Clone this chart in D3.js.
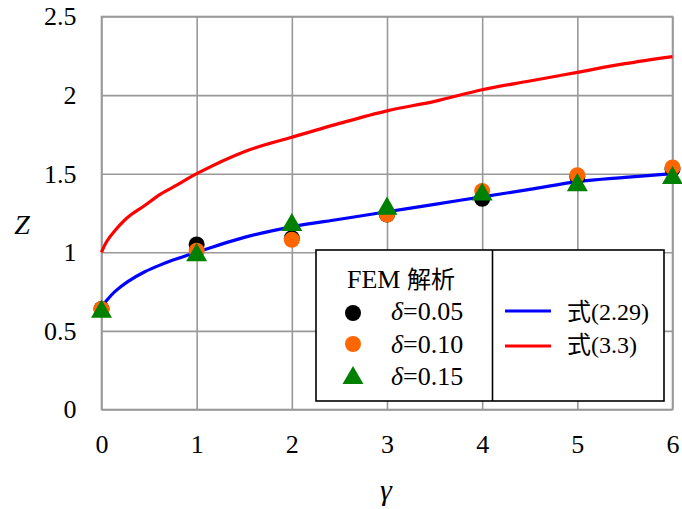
<!DOCTYPE html>
<html>
<head>
<meta charset="utf-8">
<script src="https://cdn.jsdelivr.net/npm/d3@7"></script>
<style>
  body { margin: 0; background: #fff; }
  svg, svg text { font-family: "Liberation Serif", "Times New Roman", serif; }
</style>
</head>
<body>
<div id="chart"></div>
<script>
// FEM results at integer gamma
const gammaPts = [0, 1, 2, 3, 4, 5, 6];
const fem005 = [0.64, 1.05, 1.09, 1.24, 1.34, 1.48, 1.53];
const fem010 = [0.64, 1.01, 1.08, 1.24, 1.39, 1.49, 1.54];
const fem015 = [0.635, 0.995, 1.186, 1.29, 1.38, 1.44, 1.485];

// curves
const curveGamma = [0, 0.05, 0.14, 0.28, 0.45, 0.62, 0.8, 1, 1.5, 2, 2.5, 3, 3.5, 4, 4.5, 5, 5.5, 6];
const eq229 = [0.65, 0.69, 0.75, 0.815, 0.875, 0.92, 0.96, 1.0, 1.095, 1.162, 1.21, 1.258, 1.305, 1.353, 1.40, 1.45, 1.477, 1.50];
const eq33 = [1.0, 1.064, 1.137, 1.224, 1.296, 1.37, 1.43, 1.5, 1.64, 1.732, 1.82, 1.90, 1.96, 2.034, 2.09, 2.145, 2.2, 2.245];

const xTicks = [0, 1, 2, 3, 4, 5, 6];
const yTicks = [0, 0.5, 1, 1.5, 2, 2.5];

const W = 682, H = 509;
const SERIF = "Liberation Serif";
const CJK = "Noto Sans CJK JP";

const svg = d3.select("#chart").append("svg")
    .attr("width", W)
    .attr("height", H)
    .attr("font-family", SERIF);

const x = d3.scaleLinear().domain([0, 6]).range([101.5, 672.5]);
const y = d3.scaleLinear().domain([0, 2.5]).range([409.5, 16.5]);

const gridColor = "#999";

// grid + axes
const xAxis = svg.append("g")
    .attr("transform", `translate(0,${y(0)})`)
    .call(d3.axisBottom(x).tickValues(xTicks).tickFormat(d3.format("d"))
        .tickSize(-(y(0) - y(2.5))).tickPadding(25));
const yAxis = svg.append("g")
    .attr("transform", `translate(${x(0)},0)`)
    .call(d3.axisLeft(y).tickValues(yTicks).tickFormat(d => d)
        .tickSize(-(x(6) - x(0))).tickPadding(25));

[xAxis, yAxis].forEach(g => {
    g.attr("font-family", SERIF).attr("font-size", 26);
    g.select(".domain").remove();
    g.selectAll(".tick line").attr("stroke", gridColor).attr("stroke-width", 1.6);
    g.selectAll(".tick text").attr("fill", "#000");
});

// plot frame
svg.append("rect")
    .attr("x", x(0)).attr("y", y(2.5))
    .attr("width", x(6) - x(0)).attr("height", y(0) - y(2.5))
    .attr("fill", "none").attr("stroke", gridColor).attr("stroke-width", 1.6);

// axis titles
svg.append("text")
    .attr("x", 386).attr("y", 500)
    .attr("text-anchor", "middle")
    .attr("font-size", 30).attr("font-style", "italic")
    .text("γ");
svg.append("text")
    .attr("x", 22).attr("y", 234)
    .attr("text-anchor", "middle")
    .attr("font-size", 28).attr("font-style", "italic")
    .text("Z");

// curves
const line = d3.line().curve(d3.curveCatmullRom.alpha(0.5));
const blueData = curveGamma.map((g, i) => [x(g), y(eq229[i])]);
const redData = curveGamma.map((g, i) => [x(g), y(eq33[i])]);

svg.append("path").attr("d", line(redData))
    .attr("fill", "none").attr("stroke", "#ff0000").attr("stroke-width", 3.2);
svg.append("path").attr("d", line(blueData))
    .attr("fill", "none").attr("stroke", "#0000ff").attr("stroke-width", 3.2);

// markers
const circleR = 8;
const triSym = d3.symbol().type(d3.symbolTriangle).size(190);

svg.append("g").selectAll("circle")
    .data(gammaPts.map((g, i) => [g, fem005[i]]))
    .join("circle")
    .attr("cx", d => x(d[0])).attr("cy", d => y(d[1]))
    .attr("r", circleR).attr("fill", "#000");

svg.append("g").selectAll("circle")
    .data(gammaPts.map((g, i) => [g, fem010[i]]))
    .join("circle")
    .attr("cx", d => x(d[0])).attr("cy", d => y(d[1]))
    .attr("r", circleR).attr("fill", "#ff6600");

svg.append("g").selectAll("path")
    .data(gammaPts.map((g, i) => [g, fem015[i]]))
    .join("path")
    .attr("d", triSym)
    .attr("transform", d => `translate(${x(d[0])},${y(d[1]) + 2})`)
    .attr("fill", "#008000");

// legend
const lg = svg.append("g");
lg.append("rect")
    .attr("x", 316).attr("y", 250)
    .attr("width", 348).attr("height", 151)
    .attr("fill", "#fff").attr("stroke", "#000").attr("stroke-width", 1.6);
lg.append("line")
    .attr("x1", 492.5).attr("x2", 492.5).attr("y1", 250).attr("y2", 401)
    .attr("stroke", "#000").attr("stroke-width", 1.6);

const title = lg.append("text")
    .attr("x", 401).attr("y", 288)
    .attr("text-anchor", "middle")
    .attr("font-size", 26);
title.append("tspan").text("FEM ");
title.append("tspan").attr("font-family", CJK).attr("font-size", 24).text("解析");

const femLegend = [
    { label: "0.05", color: "#000", shape: "circle", ty: 320, my: 313 },
    { label: "0.10", color: "#ff6600", shape: "circle", ty: 353, my: 344 },
    { label: "0.15", color: "#008000", shape: "tri", ty: 385, my: 378 }
];
femLegend.forEach(e => {
    if (e.shape === "circle") {
        lg.append("circle").attr("cx", 353).attr("cy", e.my).attr("r", circleR).attr("fill", e.color);
    } else {
        lg.append("path").attr("d", triSym).attr("transform", `translate(353,${e.my})`).attr("fill", e.color);
    }
    const t = lg.append("text").attr("x", 391).attr("y", e.ty).attr("font-size", 26);
    t.append("tspan").attr("font-style", "italic").text("δ");
    t.append("tspan").text("=" + e.label);
});

const eqLegend = [
    { label: "(2.29)", color: "#0000ff", ly: 311, ty: 320 },
    { label: "(3.3)", color: "#ff0000", ly: 346, ty: 353 }
];
eqLegend.forEach(e => {
    lg.append("line")
        .attr("x1", 505).attr("x2", 551).attr("y1", e.ly).attr("y2", e.ly)
        .attr("stroke", e.color).attr("stroke-width", 3.2);
    const t = lg.append("text").attr("x", 567).attr("y", e.ty).attr("font-size", 24);
    t.append("tspan").attr("font-family", CJK).attr("font-size", 24).text("式");
    t.append("tspan").text(e.label);
});
</script>
</body>
</html>
